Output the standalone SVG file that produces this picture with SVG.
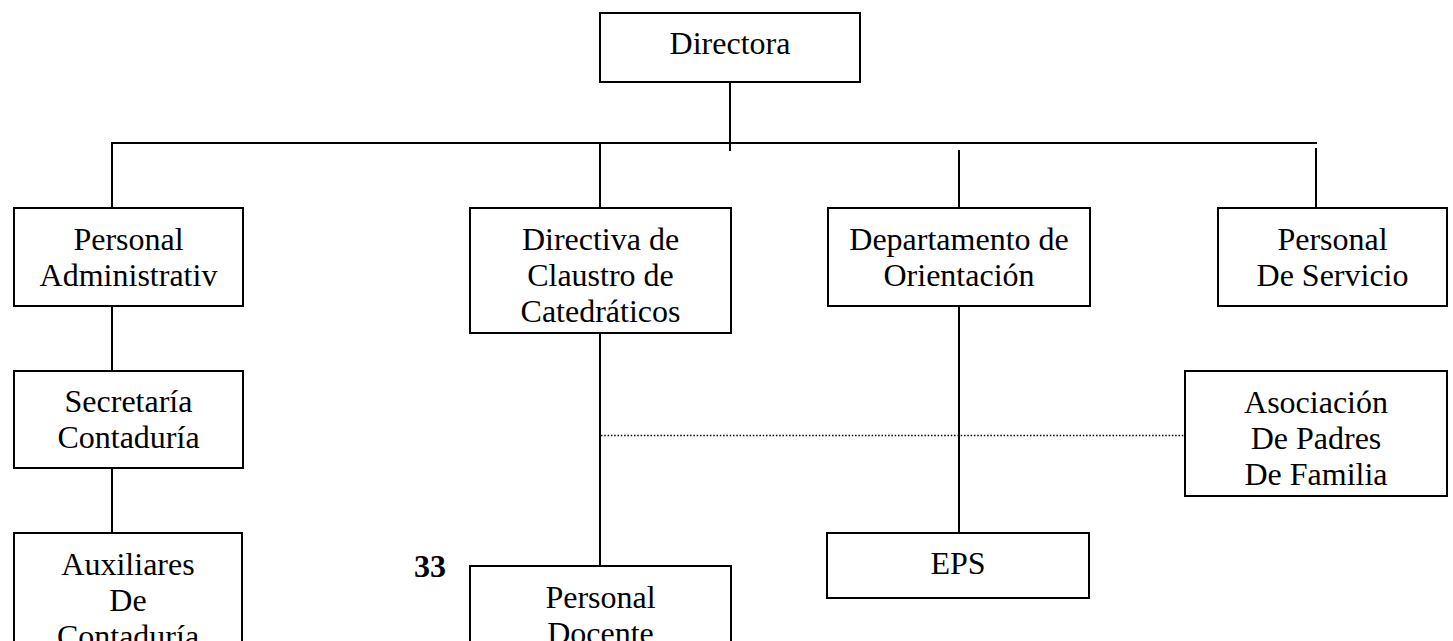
<svg xmlns="http://www.w3.org/2000/svg" width="1453" height="641" viewBox="0 0 1453 641">
<style>
  .box { fill: #ffffff; stroke: #000000; stroke-width: 2; }
  .lbl { font-family: "Liberation Serif", "Times New Roman", serif; font-size: 32px; fill: #000000; text-anchor: middle; }
  .num { font-family: "Liberation Serif", "Times New Roman", serif; font-size: 32px; font-weight: bold; fill: #000000; text-anchor: middle; }
  .ln { stroke: #000000; stroke-width: 2; fill: none; }
  .dot { stroke: #000000; stroke-width: 1.5; fill: none; stroke-dasharray: 1.5 1.8; }
</style>
<rect width="1453" height="641" fill="#ffffff"/>
<g id="connectors">
  <line class="ln" x1="730" y1="82" x2="730" y2="151"/>
  <line class="ln" x1="111" y1="143" x2="1317" y2="143"/>
  <line class="ln" x1="112" y1="143" x2="112" y2="208"/>
  <line class="ln" x1="600" y1="143" x2="600" y2="208"/>
  <line class="ln" x1="959" y1="150" x2="959" y2="208"/>
  <line class="ln" x1="1316" y1="148" x2="1316" y2="208"/>
  <line class="ln" x1="112" y1="306" x2="112" y2="371"/>
  <line class="ln" x1="112" y1="468" x2="112" y2="533"/>
  <line class="ln" x1="600" y1="333" x2="600" y2="566"/>
  <line class="ln" x1="959" y1="306" x2="959" y2="533"/>
  <line class="dot" x1="601" y1="435.5" x2="1185" y2="435.5"/>
</g>
<g id="directora">
  <rect class="box" x="600" y="13" width="260" height="69"/>
  <text class="lbl" x="730" y="54">Directora</text>
</g>
<g id="personal-administrativ">
  <rect class="box" x="14" y="208" width="229" height="98"/>
  <text class="lbl" x="128.5" y="250">Personal</text>
  <text class="lbl" x="128.5" y="286">Administrativ</text>
</g>
<g id="directiva">
  <rect class="box" x="470" y="208" width="261" height="125"/>
  <text class="lbl" x="600.5" y="250">Directiva de</text>
  <text class="lbl" x="600.5" y="286">Claustro de</text>
  <text class="lbl" x="600.5" y="322">Catedráticos</text>
</g>
<g id="departamento">
  <rect class="box" x="828" y="208" width="262" height="98"/>
  <text class="lbl" x="959" y="250">Departamento de</text>
  <text class="lbl" x="959" y="286">Orientación</text>
</g>
<g id="personal-servicio">
  <rect class="box" x="1218" y="208" width="229" height="98"/>
  <text class="lbl" x="1332.5" y="250">Personal</text>
  <text class="lbl" x="1332.5" y="286">De Servicio</text>
</g>
<g id="secretaria">
  <rect class="box" x="14" y="371" width="229" height="97"/>
  <text class="lbl" x="128.5" y="412">Secretaría</text>
  <text class="lbl" x="128.5" y="448">Contaduría</text>
</g>
<g id="asociacion">
  <rect class="box" x="1185" y="371" width="262" height="125"/>
  <text class="lbl" x="1316" y="413">Asociación</text>
  <text class="lbl" x="1316" y="449">De Padres</text>
  <text class="lbl" x="1316" y="485">De Familia</text>
</g>
<g id="eps">
  <rect class="box" x="827" y="533" width="262" height="65"/>
  <text class="lbl" x="958" y="574">EPS</text>
</g>
<g id="auxiliares">
  <rect class="box" x="14" y="533" width="228" height="130"/>
  <text class="lbl" x="128" y="575">Auxiliares</text>
  <text class="lbl" x="128" y="611">De</text>
  <text class="lbl" x="128" y="647">Contaduría</text>
</g>
<g id="personal-docente">
  <rect class="box" x="470" y="566" width="261" height="110"/>
  <text class="lbl" x="600.5" y="608">Personal</text>
  <text class="lbl" x="600.5" y="644">Docente</text>
</g>
<g id="page-number">
  <text class="num" x="430" y="577">33</text>
</g>
</svg>
